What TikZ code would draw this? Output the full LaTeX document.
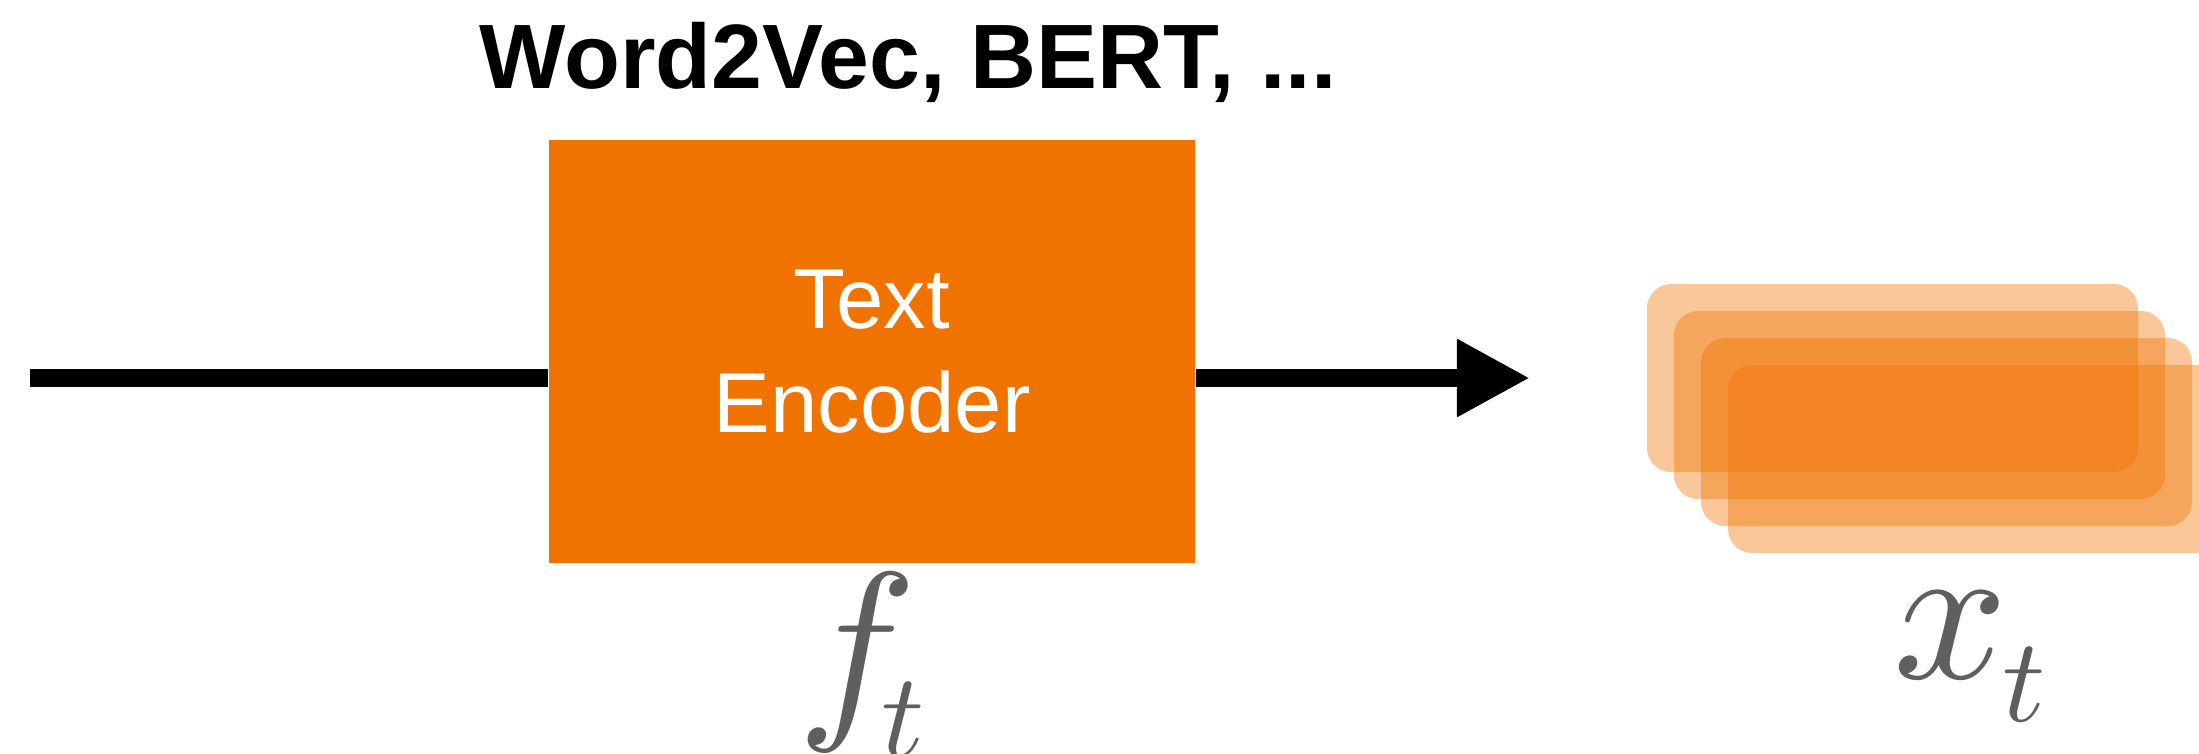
\documentclass[tikz,border=0pt]{standalone}
\usepackage{graphicx}
\usepackage{fontspec}
\setmainfont{Liberation Sans}
\usetikzlibrary{arrows.meta}
\definecolor{encorange}{RGB}{240,115,0}
\definecolor{labelgray}{RGB}{95,95,95}
% large italic symbol with a lowered, tucked-in index
\newcommand{\bigsym}[4]{\scalebox{5.7}{$#1$}\kern#3\raisebox{#4}{\scalebox{3.4}{$#2$}}}
\begin{document}
\begin{tikzpicture}[x=0.01cm,y=-0.01cm,
  encbox/.style={fill=encorange, minimum width=6.46cm, minimum height=4.23cm,
    inner sep=0pt, align=center, text=white,
    font=\fontsize{24.2}{29.6}\selectfont},
  flow/.style={line width=0.18cm, black},
  card/.style={fill=encorange, fill opacity=0.4, rounded corners=0.24cm},
  headline/.style={font=\fontsize{26}{30}\selectfont\bfseries, inner sep=0pt},
  symlabel/.style={text=labelgray, inner sep=0pt, anchor=base west}]
\useasboundingbox (0,0) rectangle (2199,753);

% model family heading
\node[headline, anchor=base west] (title) at (479,88) {Word2Vec, BERT, ...};

% encoder block
\node[encbox] (enc) at (872,351.5) {Text\\Encoder};

% input and output flow
\coordinate (in) at (30,378);
\coordinate (out) at (1530,378);
\draw[flow] (in) -- (in -| enc.west);
\draw[flow, -{Triangle[length=0.73cm,width=0.73cm]}] (enc.east |- in) -- (out);

% stack of embedding cards
\foreach \i in {0,1,2,3}
  \fill[card] (1647+27*\i,284+27*\i) rectangle ++(491,188);

% symbols
\node[symlabel] (ft) at (797,712) {\bigsym{f}{t}{-0.36cm}{-0.44cm}};
\node[symlabel] (xt) at (1893,678) {\bigsym{x}{t}{-0.06cm}{-0.43cm}};
\end{tikzpicture}
\end{document}
